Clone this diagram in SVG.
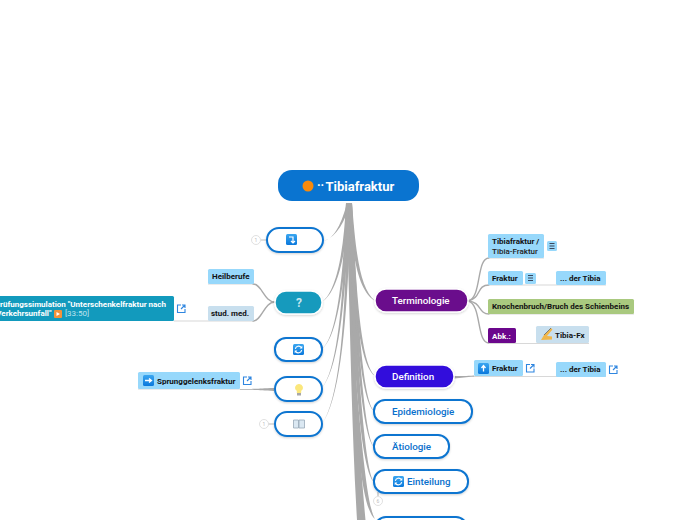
<svg xmlns="http://www.w3.org/2000/svg" width="697" height="520" viewBox="0 0 697 520">
<defs>
<filter id="sh" x="-10%" y="-20%" width="120%" height="150%"><feDropShadow dx="0" dy="1" stdDeviation="1" flood-color="#000" flood-opacity="0.18"/></filter>
<linearGradient id="ic" x1="0" y1="0" x2="0" y2="1"><stop offset="0" stop-color="#3aa6f0"/><stop offset="1" stop-color="#0a78dc"/></linearGradient>
<g id="refresh"><rect width="11" height="11" rx="1.500" fill="url(#ic)"/><path d="M2.300 4.800A3.400 3.400 0 0 1 8.300 3.400M8.700 6.200A3.400 3.400 0 0 1 2.700 7.600" fill="none" stroke="#fff" stroke-width="1.100"/><path d="M9.300 1.800V4.500H6.600ZM1.700 9.200V6.500H4.400Z" fill="#fff"/></g>
<g id="lines"><path d="M0 0H5M0 2.500H5M0 5H5" stroke="#223" stroke-width=".8" fill="none"/></g>
<path id="link" d="M4 0H0.500V7.500H8V4M4 4L8 0M5 0H8V3" fill="none" stroke="#2f86e0" stroke-width="1.100"/>
</defs>
<style>
text{font-family:Roboto,"Liberation Sans",sans-serif}
.f{fill:#a9a9a9;stroke:none}
.c{fill:none;stroke:#a9a9a9;stroke-linecap:round;stroke-width:1.400}
.u{fill:none;stroke:#d8d8d8;stroke-width:1.200}
.o{fill:#fff;stroke:#0a74d0;stroke-width:2;filter:url(#sh)}
.t{fill:#0a70cc;font-size:9.800px;font-weight:500}
.w{fill:#fff;font-size:9.800px;font-weight:500}
.s{fill:#111;font-size:8px;font-weight:700}
.b{fill:#97d8fb}
.n{fill:#fff;stroke:#d8d8d8;stroke-width:.8}
.nt{fill:#bbb;font-size:5px;text-anchor:middle}
</style>
<g id="connectors">
<path class="f" d="M346 203H352C353 300 356 420 365.500 520H357C351 420 350 300 346 203Z"/>
<path class="f" d="M347 203C342 222 335 238 324 241C337 236 345 222 350 203Z"/>
<path class="f" d="M346 203C344 245 338 290 322 302C339 291 346 250 350 203Z"/>
<path class="f" d="M346 203C344 260 339 335 322 349C340 335 346 265 350 203Z"/>
<path class="f" d="M346 203C344 280 340 365 322 388C341 365 346 285 350 203Z"/>
<path class="f" d="M347 203C346 300 342 395 322 424C343 395 348 300 351 203Z"/>
<path class="f" d="M348 203C353 260 358 290 375 301C360 288 356 255 352 203Z"/>
<path class="f" d="M348 203C353 290 358 365 375 376C360 363 356 285 352 203Z"/>
<path class="f" d="M349 203C354 310 360 400 374 411C362 398 357 305 352 203Z"/>
<path class="f" d="M350 250C355 340 362 436 374 447C364 434 358 335 353 250Z"/>
<path class="f" d="M351 300C356 390 362 471 374 482C365 469 360 385 354 300Z"/>
<path class="f" d="M353 380C358 450 362 508 375 519C367 506 362 445 356 380Z"/>
<path class="c" d="M468 301C482 298 476 258 489 258"/>
<path class="c" d="M468 301C482 298 476 285 489 285"/>
<path class="c" d="M468 301C482 302 478 314 489 314"/>
<path class="c" d="M468 301C482 304 476 343 489 343"/>
<path class="u" d="M489 258H544M489 285H606M489 314H634M489 343.500H589"/>
<path class="f" d="M454 376C462 376 466 376 474 375.500V376.800C466 377 462 378 454 378.500Z"/>
<path class="u" d="M474 376.500H606"/>
<path class="u" d="M174 321H254M208 284H254"/>
<path class="c" d="M275 302C264 302 262 284 253 284"/>
<path class="c" d="M275 302C264 302 262 321 253 321"/>
<path class="f" d="M274 388C258 388.500 258 389 240 389V389.800C258 390 258 390.500 274 391Z"/>
<path class="u" d="M138 389H240"/>
<path fill="none" stroke="#bbb" stroke-width="1.200" d="M267 240H261M274 424H268M378 496V492"/>
</g>
<g id="root"><rect x="278" y="170" width="141" height="31" rx="14" fill="#0a74d0"/><circle cx="308" cy="186" r="5.500" fill="#f98a0c"/><text x="317" y="190" fill="#fff" font-size="12" font-weight="700">··</text><text x="325.500" y="190.500" fill="#fff" font-size="13" font-weight="700">Tibiafraktur</text></g>
<g id="n1"><rect x="267" y="228" width="56" height="24" rx="12" class="o"/><rect x="286" y="234" width="11" height="11" rx="1.500" fill="url(#ic)"/><path d="M289 237H293V242M291 241L293 243L295 241" fill="none" stroke="#fff" stroke-width="1.200"/><circle class="n" cx="256" cy="240" r="4.500"/><text class="nt" x="256" y="242">1</text></g>
<g id="n2"><rect x="275" y="291" width="47" height="23" rx="11" fill="#129abd" stroke="#fff" stroke-width="1.500" filter="url(#sh)"/><text x="299" y="307" text-anchor="middle" fill="#c9e6ef" font-size="12" font-weight="700">?</text></g>
<g id="n2a"><rect x="208" y="269" width="46" height="15" rx="1.500" class="b"/><text class="s" x="212" y="279">Heilberufe</text></g>
<g id="n2b"><rect x="208" y="306" width="46" height="15" rx="1.500" fill="#c8dfee"/><text class="s" x="211" y="316">stud. med.</text></g>
<g id="n2c"><rect x="-10" y="296" width="184" height="25" rx="1.500" fill="#129abd"/><text x="166" y="307" text-anchor="end" fill="#fff" font-size="8" font-weight="700">Prüfungssimulation "Unterschenkelfraktur nach</text><text x="51.500" y="316" text-anchor="end" fill="#fff" font-size="8" font-weight="700">Verkehrsunfall"</text><rect x="54" y="310" width="8" height="8" rx="1" fill="#f5923a"/><path d="M56.500 312V316L60 314Z" fill="#fff"/><text x="65" y="316" fill="#bfe3ee" font-size="8">[33:50]</text><use href="#link" x="177" y="305"/></g>
<g id="n3"><rect x="275" y="338" width="47" height="23" rx="11" class="o"/><use href="#refresh" x="293" y="344"/></g>
<g id="n4"><rect x="275" y="377" width="47" height="24" rx="12" class="o"/><path d="M299 384a3.700 3.700 0 0 1 2.200 6.800V393H296.800V390.800A3.700 3.700 0 0 1 299 384Z" fill="#fbe77c"/><rect x="297" y="393" width="4" height="2.500" fill="#a8a8a8"/></g>
<g id="n4a"><rect x="138" y="372" width="102" height="17" rx="1.500" class="b"/><rect x="143" y="375" width="11" height="11" rx="1.500" fill="url(#ic)"/><path d="M145 380.500H151M149 378.500L151.500 380.500L149 382.500" fill="none" stroke="#fff" stroke-width="1.300"/><text class="s" x="157" y="384">Sprunggelenksfraktur</text><use href="#link" x="243" y="377"/></g>
<g id="n5"><rect x="275" y="412" width="47" height="24" rx="12" class="o"/><path d="M293.500 420H298.500V428H293.500ZM299 420H304.500V428H299Z" fill="#dbe8f2" stroke="#98a8b8" stroke-width=".8"/><circle class="n" cx="264" cy="424" r="4.500"/><text class="nt" x="264" y="426">1</text></g>
<g id="n6"><rect x="375" y="289" width="93" height="23" rx="11" fill="#6b078c" stroke="#fff" stroke-width="1.500" filter="url(#sh)"/><text class="w" x="392" y="304">Terminologie</text></g>
<g id="n6a"><rect x="488" y="234" width="56" height="24" rx="1.500" class="b"/><text class="s" x="492" y="244">Tibiafraktur /</text><text x="492" y="254" font-size="8" font-weight="500" fill="#222">Tibia-Fraktur</text><rect x="547" y="241" width="10" height="10" rx="1.500" class="b"/><use href="#lines" x="549.500" y="243.500"/></g>
<g id="n6b"><rect x="488" y="271" width="35" height="14" rx="1.500" class="b"/><text class="s" x="492" y="281">Fraktur</text><rect x="525" y="273" width="11" height="11" rx="1.500" class="b"/><use href="#lines" x="528" y="275.500"/></g>
<g id="n6c"><rect x="556" y="271" width="50" height="14" rx="1.500" class="b"/><text class="s" x="560" y="281">... der Tibia</text></g>
<g id="n6d"><rect x="488" y="299" width="146" height="15" rx="1.500" fill="#a9c97f"/><text class="s" x="492" y="309">Knochenbruch/Bruch des Schienbeins</text></g>
<g id="n6e"><rect x="488" y="328" width="28" height="15" rx="1.500" fill="#6b078c"/><text x="492" y="339" fill="#fff" font-size="8" font-weight="700">Abk.:</text></g>
<g id="n6f"><rect x="536" y="326" width="53" height="17" rx="1.500" fill="#c8dfee"/><path d="M541 340L544 335L551 328L552.500 329.500L547 336L552 336.500L552 339.500Z" fill="#f0b64a"/><path d="M544 335L551 328" stroke="#666" stroke-width=".8"/><text class="s" x="555" y="338">Tibia-Fx</text></g>
<g id="n7"><rect x="375" y="365" width="79" height="23" rx="11" fill="#3009dc" stroke="#fff" stroke-width="1.500" filter="url(#sh)"/><text class="w" x="392" y="380">Definition</text></g>
<g id="n7a"><rect x="474" y="360" width="49" height="16" rx="1.500" class="b"/><rect x="478" y="363" width="11" height="11" rx="1.500" fill="url(#ic)"/><path d="M483.500 371.500V365.500M481.500 368L483.500 365.500L485.500 368" fill="none" stroke="#fff" stroke-width="1.300"/><text class="s" x="492" y="371">Fraktur</text><use href="#link" x="526" y="364.500"/></g>
<g id="n7b"><rect x="556" y="362" width="50" height="15" rx="1.500" class="b"/><text class="s" x="560" y="372">... der Tibia</text><use href="#link" x="609" y="366"/></g>
<g id="n8"><rect x="374" y="400" width="98" height="23" rx="11" class="o"/><text class="t" x="392" y="415">Epidemiologie</text></g>
<g id="n9"><rect x="374" y="435" width="75" height="23" rx="11" class="o"/><text class="t" x="392" y="450">Ätiologie</text></g>
<g id="n10"><rect x="374" y="470" width="94" height="23" rx="11" class="o"/><use href="#refresh" x="393" y="476"/><text class="t" x="407" y="485">Einteilung</text><circle class="n" cx="378" cy="501" r="4.500"/><text class="nt" x="378" y="503">6</text></g>
<g id="n11"><rect x="375" y="517" width="92" height="23" rx="11" class="o"/></g>
</svg>
